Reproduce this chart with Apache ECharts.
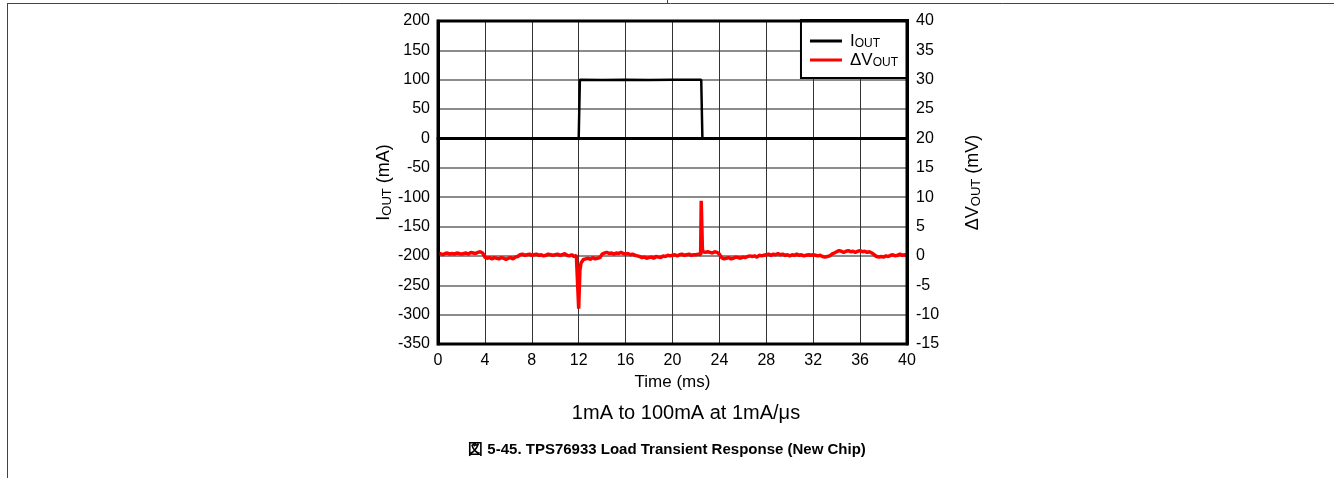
<!DOCTYPE html>
<html>
<head>
<meta charset="utf-8">
<script src="https://cdn.jsdelivr.net/npm/echarts@6/dist/echarts.min.js"></script>
<style>html,body{margin:0;padding:0;background:#fff;}#c{width:1334px;height:478px;}</style>
</head>
<body>
<div id="c"></div>
<script>
// ---- data ----
const xTicks = [0, 4, 8, 12, 16, 20, 24, 28, 32, 36, 40];
const leftTicks = [-350, -300, -250, -200, -150, -100, -50, 0, 50, 100, 150, 200];
const rightTicks = [-15, -10, -5, 0, 5, 10, 15, 20, 25, 30, 35, 40];

// IOUT (mA) vs time (ms)
const ioutTime = [0, 12.0, 12.1, 14, 16, 18, 20, 22.45, 22.55, 40];
const ioutVal  = [0, 0, 100, 99.5, 100, 99.6, 100, 100, 0, 0];

// dVOUT (mV) vs time (ms)
const dvTime = [
  0,0.2,0.4,0.6,0.8,1.0,1.2,1.4,1.6,1.8,
  2,2.2,2.4,2.6,2.8,3.0,3.2,3.4,3.6,3.8,
  4,4.2,4.4,4.6,4.8,5.0,5.2,5.4,5.6,5.8,
  6,6.2,6.4,6.6,6.8,7.0,7.2,7.4,7.6,7.8,
  8,8.2,8.4,8.6,8.8,9.0,9.2,9.4,9.6,9.8,
  10,10.2,10.4,10.6,10.8,11.0,11.2,11.4,11.6,11.8,
  11.95,12.0,12.1,12.2,
  12.4,12.6,12.8,13.0,13.2,13.4,13.6,13.8,
  14,14.2,14.4,14.6,14.8,15.0,15.2,15.4,15.6,15.8,
  16,16.2,16.4,16.6,16.8,17.0,17.2,17.4,17.6,17.8,
  18,18.2,18.4,18.6,18.8,19.0,19.2,19.4,19.6,19.8,
  20,20.2,20.4,20.6,20.8,21.0,21.2,21.4,21.6,21.8,
  22,22.2,22.4,22.45,22.55,22.6,
  22.8,23.0,23.2,23.4,23.6,23.8,
  24,24.2,24.4,24.6,24.8,25.0,25.2,25.4,25.6,25.8,
  26,26.2,26.4,26.6,26.8,27.0,27.2,27.4,27.6,27.8,
  28,28.2,28.4,28.6,28.8,29.0,29.2,29.4,29.6,29.8,
  30,30.2,30.4,30.6,30.8,31.0,31.2,31.4,31.6,31.8,
  32,32.2,32.4,32.6,32.8,33.0,33.2,33.4,33.6,33.8,
  34,34.2,34.4,34.6,34.8,35.0,35.2,35.4,35.6,35.8,
  36,36.2,36.4,36.6,36.8,37.0,37.2,37.4,37.6,37.8,
  38,38.2,38.4,38.6,38.8,39.0,39.2,39.4,39.6,39.8,
  40
];
const dvVal = [
  0.3,0.4,0.2,0.4,0.5,0.3,0.4,0.3,0.5,0.4,
  0.3,0.4,0.5,0.3,0.6,0.5,0.4,0.6,0.7,0.5,
  -0.2,-0.4,-0.3,-0.5,-0.3,-0.4,-0.5,-0.3,-0.4,-0.6,
  -0.4,-0.3,-0.5,-0.2,-0.1,0.2,0.3,0.1,0.2,0.3,
  0.1,0.2,0.3,0.1,0.2,0.0,0.1,0.3,0.2,0.1,
  0.2,0.3,0.1,0.2,0.4,0.1,0.0,0.2,-0.1,0.1,
  0.1,-9.0,-2.5,-1.2,
  -0.6,-0.5,-0.4,-0.6,-0.3,-0.5,-0.4,-0.3,
  0.3,0.5,0.6,0.4,0.5,0.3,0.5,0.4,0.6,0.4,
  0.3,0.4,0.2,0.3,0.1,0.0,-0.1,-0.3,-0.2,-0.4,
  -0.3,-0.2,-0.4,-0.1,-0.2,-0.3,0.0,-0.1,0.1,0.0,
  0.1,0.2,0.0,0.2,0.3,0.1,0.2,0.3,0.1,0.2,
  0.2,0.3,0.2,9.4,1.2,0.7,
  0.6,0.7,0.6,0.5,0.7,0.6,
  0.3,-0.3,-0.5,-0.4,-0.3,-0.5,-0.4,-0.2,-0.3,-0.4,
  -0.2,-0.3,-0.1,0.0,-0.1,0.0,-0.2,0.1,0.0,0.1,
  0.2,0.3,0.1,0.3,0.2,0.4,0.2,0.3,0.1,0.2,
  0.0,0.2,0.1,0.3,0.1,0.2,0.0,0.1,0.2,0.1,
  0.2,0.1,0.0,0.1,-0.1,-0.2,-0.1,0.0,0.3,0.5,
  0.7,0.9,0.8,0.6,0.8,0.9,0.7,0.8,0.6,0.8,
  0.9,0.7,0.8,0.6,0.7,0.5,0.2,-0.1,-0.2,-0.1,
  -0.2,0.0,-0.1,0.1,0.2,0.0,0.1,0.3,0.1,0.2,
  0.0
];

const subtitle = '1mA to 100mA at 1mA/μs';
const caption = '図 5-45. TPS76933 Load Transient Response (New Chip)';

// ---- chart ----
const FONT = '"Liberation Sans", Arial, sans-serif';
const ioutData = ioutTime.map((t, i) => [t, ioutVal[i]]);
const dvData = dvTime.map((t, i) => [t, dvVal[i]]);

const richName = {
  m: { fontSize: 18, fontFamily: FONT, color: '#000', lineHeight: 22 },
  s: { fontSize: 13, fontFamily: FONT, color: '#000', lineHeight: 22, padding: [7, 0, 0, 0] }
};
const richLegend = {
  m: { fontSize: 17, fontFamily: FONT, color: '#000', lineHeight: 21 },
  s: { fontSize: 12, fontFamily: FONT, color: '#000', lineHeight: 21, padding: [6, 0, 0, 0] }
};

const chart = echarts.init(document.getElementById('c'), null, { renderer: 'canvas' });
chart.setOption({
  animation: false,
  backgroundColor: '#fff',
  textStyle: { fontFamily: FONT },
  grid: { left: 438, right: 427, top: 21, bottom: 134, show: true, borderColor: '#000', borderWidth: 3, backgroundColor: 'transparent', z: 10 },
  legend: {
    right: 426, top: 20, orient: 'vertical',
    backgroundColor: '#fff', borderColor: '#000', borderWidth: 2, borderRadius: 0,
    padding: [12, 10, 9, 9], itemGap: 1, itemWidth: 32, itemHeight: 3, icon: 'rect',
    data: ['IOUT', 'ΔVOUT'],
    formatter: function (n) { return n === 'IOUT' ? '{m|I}{s|OUT}' : '{m|ΔV}{s|OUT}'; },
    textStyle: { rich: richLegend, padding: [0, 0, 0, 3] }
  },
  xAxis: {
    type: 'value', min: 0, max: 40, interval: 4,
    name: 'Time (ms)', nameLocation: 'middle', nameGap: 29,
    nameTextStyle: { fontSize: 17, color: '#000', fontFamily: FONT },
    axisLine: { show: true, lineStyle: { color: '#000', width: 3 } },
    axisTick: { show: false },
    axisLabel: { fontSize: 16, color: '#000', margin: 9, fontFamily: FONT,
      formatter: v => xTicks.includes(v) ? String(v) : '' },
    splitLine: { show: true, lineStyle: { color: '#333', width: 1 } }
  },
  yAxis: [{
    type: 'value', min: -350, max: 200, interval: 50, position: 'left',
    name: '{m|I}{s|OUT}{m| (mA)}', nameLocation: 'middle', nameGap: 42, nameRotate: 90,
    nameTextStyle: { rich: richName },
    axisLine: { show: true, lineStyle: { color: '#000', width: 3 } },
    axisTick: { show: false },
    axisLabel: { fontSize: 16, color: '#000', margin: 8, fontFamily: FONT,
      formatter: v => leftTicks.includes(v) ? String(v) : '' },
    splitLine: { show: true, lineStyle: { color: '#666', width: 1.5 } }
  }, {
    type: 'value', min: -15, max: 40, interval: 5, position: 'right',
    name: '{m|ΔV}{s|OUT}{m| (mV)}', nameLocation: 'middle', nameGap: 55, nameRotate: 90,
    nameTextStyle: { rich: richName },
    axisLine: { show: true, lineStyle: { color: '#000', width: 3 } },
    axisTick: { show: false },
    axisLabel: { fontSize: 16, color: '#000', margin: 9, fontFamily: FONT,
      formatter: v => rightTicks.includes(v) ? String(v) : '' },
    splitLine: { show: false }
  }],
  series: [{
    name: 'IOUT', type: 'line', data: ioutData, yAxisIndex: 0,
    showSymbol: false, lineStyle: { color: '#000', width: 2.5 }, itemStyle: { color: '#000' }, z: 3
  }, {
    name: 'ΔVOUT', type: 'line', data: dvData, yAxisIndex: 1,
    showSymbol: false, lineStyle: { color: '#ff0000', width: 3.5 }, itemStyle: { color: '#ff0000' }, z: 4
  }],
  graphic: [
    { type: 'line', shape: { x1: 7, y1: 3.5, x2: 1334, y2: 3.5 }, style: { stroke: '#444', lineWidth: 1 } },
    { type: 'line', shape: { x1: 7.5, y1: 3, x2: 7.5, y2: 478 }, style: { stroke: '#444', lineWidth: 1 } },
    { type: 'line', shape: { x1: 667.5, y1: 0, x2: 667.5, y2: 3 }, style: { stroke: '#444', lineWidth: 1 } },
    { type: 'text', x: 686, y: 413, style: { text: subtitle, font: '20px ' + FONT, fill: '#000', align: 'center', verticalAlign: 'middle' } },
    { type: 'text', left: 'center', top: 442, style: { text: caption, font: 'bold 15px ' + FONT, fill: '#000' } }
  ]
});
</script>
</body>
</html>
